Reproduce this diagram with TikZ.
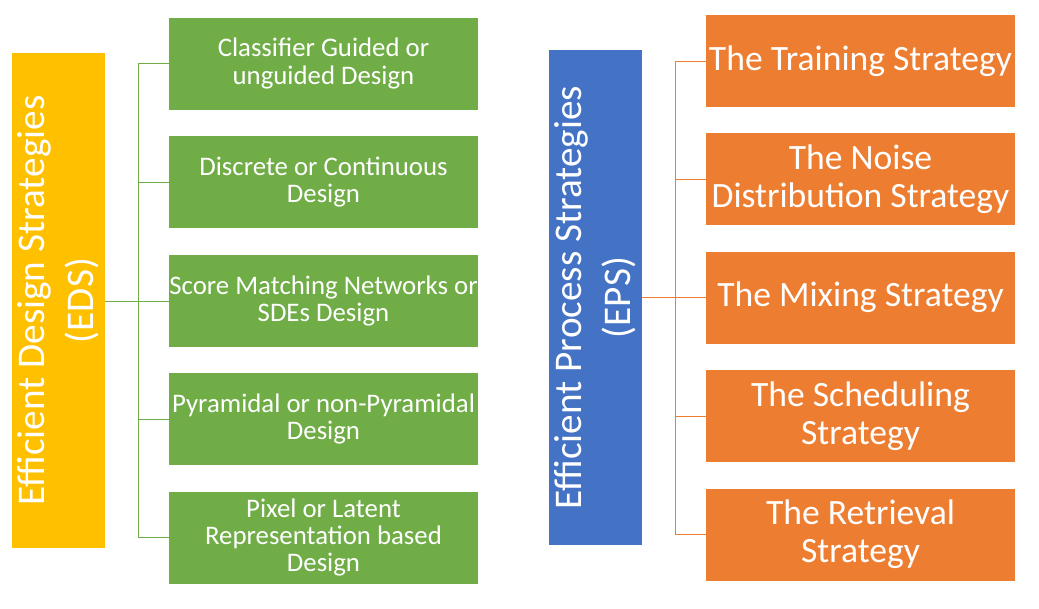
\documentclass[tikz,border=0pt]{standalone}
\usepackage{fontspec}
\setmainfont{Carlito}
\definecolor{edsyellow}{HTML}{FFC000}
\definecolor{epsblue}{HTML}{4472C4}
\definecolor{dgreen}{HTML}{70AD47}
\definecolor{porange}{HTML}{ED7D31}

\begin{document}
\begin{tikzpicture}[x=0.75pt,y=-0.75pt]
	\tikzstyle{every node}+=[inner sep=0pt, text=white, align=center]
	\tikzstyle{mainbox}=[rotate=90, minimum width=371.25pt, minimum height=69.75pt, font=\fontsize{29.4}{36.75}\selectfont]
	\tikzstyle{dbox}=[fill=dgreen, minimum width=231.75pt, minimum height=69pt, font=\fontsize{20.1}{20.4}\selectfont]
	\tikzstyle{pbox}=[fill=porange, minimum width=231.75pt, minimum height=69pt, font=\fontsize{26.7}{28.5}\selectfont]
	\tikzstyle{dline}=[dgreen, line width=0.75pt]
	\tikzstyle{pline}=[porange, line width=0.75pt]
	\useasboundingbox (0,0) rectangle (1039,608);
	% left tree
	\node [mainbox, fill=edsyellow] (eds) at (58.5,300.5) {Efficient Design Strategies\\(EDS)};
	\node [dbox] (d1) at (323.5,63.5) {Classifier Guided or\\unguided Design};
	\node [dbox] (d2) at (323.5,182) {Discrete or Continuous\\Design};
	\node [dbox] (d3) at (323.5,301) {Score Matching Networks or\\SDEs Design};
	\node [dbox] (d4) at (323.5,419) {Pyramidal or non-Pyramidal\\Design};
	\node [dbox] (d5) at (323.5,537.5) {Pixel or Latent\\Representation based\\Design};
	\coordinate (dbus) at (138,300);
	\draw [dline] (eds.south |- d3.west) -- (d3.west);
	\draw [dline] (d1.west) -- (d1.west -| dbus) -- (d5.west -| dbus) -- (d5.west);
	\draw [dline] (d2.west) -- (d2.west -| dbus);
	\draw [dline] (d4.west) -- (d4.west -| dbus);
	% right tree
	\node [mainbox, fill=epsblue] (eps) at (595.5,297.5) {Efficient Process Strategies\\(EPS)};
	\node [pbox] (p1) at (860.5,61) {The Training Strategy};
	\node [pbox] (p2) at (860.5,179) {The Noise\\Distribution Strategy};
	\node [pbox] (p3) at (860.5,297.5) {The Mixing Strategy};
	\node [pbox] (p4) at (860.5,416) {The Scheduling\\Strategy};
	\node [pbox] (p5) at (860.5,534.5) {The Retrieval\\Strategy};
	\coordinate (pbus) at (675,297.5);
	\draw [pline] (eps.south |- p3.west) -- (p3.west);
	\draw [pline] (p1.west) -- (p1.west -| pbus) -- (p5.west -| pbus) -- (p5.west);
	\draw [pline] (p2.west) -- (p2.west -| pbus);
	\draw [pline] (p4.west) -- (p4.west -| pbus);
\end{tikzpicture}
\end{document}
